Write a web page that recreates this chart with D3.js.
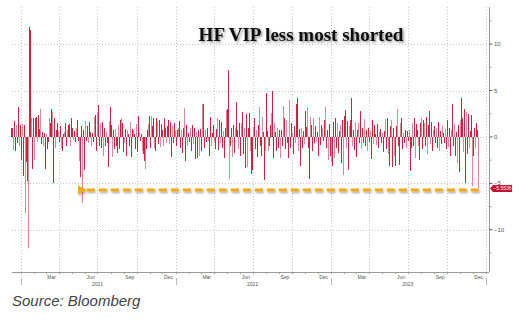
<!DOCTYPE html>
<html>
<head>
<meta charset="utf-8">
<script src="https://cdn.jsdelivr.net/npm/d3@7"></script>
<style>
  body { margin: 0; background: #fff; }
  svg { display: block; }
</style>
</head>
<body>
<svg id="chart" width="521" height="323"></svg>
<script>
// daily spread left to right (roughly one bar per pixel)
const seg1 = [1.0,-1.4,1.7,-1.5,1.3,-0.6,3.2,-1.0,1.3,-2.5,1.4,-4.2,1.3,-8.2,-2.7,-4.7,-12.0,11.8,11.5,2.0,
  -3.4,2.0,-2.5,2.0,2.2,-0.5,2.4,0.9,3.0,-0.8,0.5,-1.0,0.4,-3.5,0.3,-1.3,-0.5,2.0,1.5,3.0,
  2.7,-5.0,2.0,-1.2,0.8,1.5,0.6,-0.5,1.2,-1.2,-1.5,0.3,0.5,1.5,-1.0,0.8,1.3,1.4,-1.0,2.0,
  1.0,-0.3,0.6,-0.5,1.0,1.8,-0.4,-2.6,-4.3,1.2,-7.1,0.7,-3.6,1.7,-0.4,1.2,-0.6,1.6];
const seg2 = [0.5,-1.0,0.4,-0.5,2.2,2.4,-1.5,2.6,3.4,-1.0,1.5,-1.2,1.6,-2.0,1.0,-1.0,0.5,-0.7,-3.2,1.7,
  3.2,1.3,-2.2,0.8,-1.3,0.9,-1.0,-1.7,1.3,-1.3,1.8,2.0,1.5,-1.6,-0.6,0.9,-2.1,0.8,0.3,-1.0,
  1.6,-2.2,0.9,0.7,0.3,-1.3,1.4,-1.6,2.3,0.5,-0.4,0.3,-1.5,-1.8,-2.6,-3.5,-1.3,0.8,1.4,2.3,
  -1.2,2.3,1.2,2.0,-1.2,-1.5,2.0,1.7,-0.8,1.8,-1.1,1.4,0.7,-1.0,2.0,1.0,-0.6,1.2];
const seg3 = [1.8,-0.8,1.6,-2.2,1.2,-0.7,1.5,0.6,-1.0,0.8,1.0,1.7,-1.2,0.7,-1.7,1.0,3.1,-2.6,1.3,-1.0,
  0.4,-0.5,1.0,-1.5,1.3,-0.8,1.0,-2.4,0.5,-2.3,0.8,-2.0,0.9,-1.5,3.5,3.6,-1.2,0.8,-0.5,1.0,
  -0.4,-2.0,2.2,-1.0,0.4,1.3,-0.5,-1.3,0.9,2.0,-1.4,1.8,-0.6,1.6,-1.2,0.6,-2.3,1.0,2.9,3.0,
  7.2,-4.5,-1.0,1.0,-2.2,1.3,-1.7,1.0,3.8,0.7,-1.3,1.5,-2.0,1.5,2.7,-1.8,1.0,-3.3,2.5,-3.2,1.0];
const seg4 = [2.6,-1.5,-4.0,-3.6,1.1,2.0,-1.3,0.8,-2.2,1.3,3.2,-1.0,-2.0,2.1,0.5,-4.6,-1.5,4.7,0.6,-1.5,
  -1.0,1.3,2.6,4.9,-2.3,1.5,0.5,-1.5,1.0,-1.2,0.8,-2.3,0.7,-1.0,3.3,2.0,-1.3,1.8,-0.7,-2.3,
  4.0,-1.2,1.5,0.4,-1.8,1.2,-0.6,3.5,4.2,-1.5,0.9,-3.1,1.0,-1.2,0.6,-0.8,2.8,1.1,3.2,-1.2,
  -4.5,2.2,1.3,-1.5,2.0,-0.6,1.2,-0.5,0.5,-2.0,2.1,-0.9,1.3,1.0,-0.4,1.8,3.2,-1.2,0.7,-2.5];
const seg5 = [1.4,-2.0,-2.7,-3.1,1.6,-2.3,2.0,-1.2,1.5,-1.7,0.6,1.3,-2.8,1.8,-4.1,2.3,2.9,-1.2,1.7,-3.6,
  1.2,1.8,4.2,-1.0,0.8,-1.4,1.6,-2.2,0.8,1.5,-0.6,2.8,-1.3,1.0,-0.7,1.9,-1.0,0.8,-1.5,1.0,
  -0.5,0.6,-2.4,1.8,-0.8,1.3,0.3,-0.9,1.4,-1.2,0.5,0.9,-0.7,0.4,-1.6,0.6,1.9,-1.3,2.0,-1.8,
  -3.1,1.2,1.8,-3.2,1.0,-2.0,-3.1,1.2,3.0,-1.0,-3.0,1.5,2.0,-1.3,0.4,-0.6,0.8,-1.2,0.6,-0.4];
const seg6 = [0.8,-3.7,-1.2,1.5,-1.0,2.0,-2.3,1.4,0.7,-1.0,-2.5,1.5,2.0,-1.3,1.8,1.5,-1.0,2.2,-1.8,1.3,
  2.8,-0.8,1.6,-1.5,0.8,1.2,-0.6,1.0,-1.2,1.6,-1.5,0.6,-0.8,1.2,0.4,-0.6,0.9,-1.3,1.8,-1.1,
  1.0,-2.0,0.7,3.6,-1.0,1.4,-2.0,0.5,-2.8,1.3,-3.8,1.8,4.2,2.0,-1.6,3.0,-5.0,2.7,-1.8,2.5,
  -1.2,0.6,2.4,-5.3,-2.0,1.0,-1.2,1.5,0.7,-5.5536];
const values = [].concat(seg1, seg2, seg3, seg4, seg5, seg6);

const firstDate = new Date(2020, 11, 12);
const lastDate = new Date(2023, 11, 15);
const domainStart = new Date(2020, 11, 12);
const domainEnd = new Date(2024, 0, 8);

const yTicks = [10, 5, 0, -5, -10];
const yMinor = [12.5, 7.5, 2.5, -2.5, -7.5, -12.5];
const monthLabels = ["Mar", "Jun", "Sep", "Dec"];
const years = [2021, 2022, 2023];
const title = "HF VIP less most shorted";
const source = "Source: Bloomberg";
const arrowFromValue = -7.1;

const step = (lastDate - firstDate) / (values.length - 1);
const data = values.map((v, i) => ({date: new Date(+firstDate + i * step), value: v}));

const margin = {top: 7, right: 32, bottom: 51, left: 12};
const width = 521, height = 323;

const x = d3.scaleTime()
  .domain([domainStart, domainEnd])
  .range([margin.left, width - margin.right]);

const y = d3.scaleLinear()
  .domain([-14.55, 14])
  .range([height - margin.bottom, margin.top]);

const svg = d3.select("#chart");
const defs = svg.append("defs");

defs.append("filter")
    .attr("id", "shadow")
    .attr("x", "-10%").attr("y", "-30%").attr("width", "120%").attr("height", "160%")
  .append("feDropShadow")
    .attr("dx", 1.5).attr("dy", 1.5).attr("stdDeviation", 1.2)
    .attr("flood-color", "#000").attr("flood-opacity", 0.45);

defs.append("filter")
    .attr("id", "lineShadow")
    .attr("filterUnits", "userSpaceOnUse")
    .attr("x", 0).attr("y", 0).attr("width", width).attr("height", height)
  .append("feDropShadow")
    .attr("dx", 1).attr("dy", 1.5).attr("stdDeviation", 0.8)
    .attr("flood-color", "#000").attr("flood-opacity", 0.35);

defs.append("marker")
    .attr("id", "arrowhead")
    .attr("viewBox", "0 0 10 10")
    .attr("refX", 1).attr("refY", 5)
    .attr("markerWidth", 3).attr("markerHeight", 3)
    .attr("orient", "auto-start-reverse")
  .append("path")
    .attr("d", "M10,0 L0,5 L10,10 Z")
    .attr("fill", "#f0a81a");

// gridlines
const grid = svg.append("g")
    .attr("stroke", "#c8c8c8")
    .attr("stroke-width", 1)
    .attr("stroke-dasharray", "1,2");

grid.selectAll("line.h")
  .data(yTicks)
  .join("line")
    .attr("class", "h")
    .attr("x1", margin.left).attr("x2", width - margin.right)
    .attr("y1", d => Math.round(y(d)) + 0.5).attr("y2", d => Math.round(y(d)) + 0.5);

grid.selectAll("line.v")
  .data(d3.timeMonth.every(3).range(domainStart, domainEnd))
  .join("line")
    .attr("class", "v")
    .attr("x1", d => Math.round(x(d)) + 0.5).attr("x2", d => Math.round(x(d)) + 0.5)
    .attr("y1", margin.top).attr("y2", height - margin.bottom);

// bars
const bw = x(new Date(+firstDate + step)) - x(firstDate);
svg.append("g")
    .attr("shape-rendering", "crispEdges")
  .selectAll("rect")
  .data(data)
  .join("rect")
    .attr("x", d => x(d.date) - bw / 2)
    .attr("width", bw)
    .attr("y", d => y(Math.max(0, d.value)))
    .attr("height", d => Math.abs(y(d.value) - y(0)))
    .attr("fill", (d, i) => i % 3 === 1 ? "#de8797" : "#d0223f");

// arrow from the latest reading back to the earlier comparable low
const last = data[data.length - 1];
const target = data[values.indexOf(arrowFromValue)];
const arrowY = y(last.value) + 1.5;
svg.append("path")
    .attr("d", `M${x(last.date)},${arrowY}H${x(target.date) + 4}`)
    .attr("fill", "none")
    .attr("stroke", "#f0a81a")
    .attr("stroke-width", 3)
    .attr("stroke-dasharray", "8,4")
    .attr("marker-end", "url(#arrowhead)")
    .attr("filter", "url(#lineShadow)");

// right axis
const axisX = width - margin.right;
const axisG = svg.append("g").attr("transform", `translate(${axisX},0)`);
axisG.append("line")
    .attr("x1", 0.5).attr("x2", 0.5)
    .attr("y1", margin.top).attr("y2", height - margin.bottom)
    .attr("stroke", "#9a9a9a");
axisG.selectAll("line.minor")
  .data(yMinor)
  .join("line")
    .attr("class", "minor")
    .attr("x1", 0.5).attr("x2", 2.5)
    .attr("y1", d => y(d)).attr("y2", d => y(d))
    .attr("stroke", "#9a9a9a");
axisG.selectAll("line.major")
  .data(yTicks)
  .join("line")
    .attr("class", "major")
    .attr("x1", 0.5).attr("x2", 3.5)
    .attr("y1", d => y(d)).attr("y2", d => y(d))
    .attr("stroke", "#555");
axisG.selectAll("text")
  .data(yTicks)
  .join("text")
    .attr("x", 5)
    .attr("y", d => y(d))
    .attr("dy", "0.35em")
    .attr("font-family", "Liberation Sans, Arial, sans-serif")
    .attr("font-size", 6)
    .attr("fill", "#555")
    .text(d => d < 0 ? "\u2212" + Math.abs(d) : d);

// last value tag
const tagY = y(last.value);
axisG.append("path")
    .attr("d", `M1,${tagY} L4,${tagY - 3.5} H23 V${tagY + 3.5} H4 Z`)
    .attr("fill", "#c8102e");
axisG.append("text")
    .attr("x", 13.5).attr("y", tagY).attr("dy", "0.35em")
    .attr("text-anchor", "middle")
    .attr("font-family", "Liberation Sans, Arial, sans-serif")
    .attr("font-size", 5)
    .attr("fill", "#fff")
    .text(d3.format(".4f")(last.value).replace("-", "\u2212"));

// bottom axis
const baseY = height - margin.bottom;
const bottom = svg.append("g");
bottom.append("line")
    .attr("x1", margin.left).attr("x2", axisX)
    .attr("y1", baseY + 0.5).attr("y2", baseY + 0.5)
    .attr("stroke", "#9a9a9a");
bottom.selectAll("line.mt")
  .data(d3.timeMonth.range(domainStart, domainEnd))
  .join("line")
    .attr("class", "mt")
    .attr("x1", d => Math.round(x(d)) + 0.5).attr("x2", d => Math.round(x(d)) + 0.5)
    .attr("y1", baseY).attr("y2", baseY + 2)
    .attr("stroke", "#9a9a9a");
bottom.selectAll("line.yt")
  .data(d3.timeYear.range(domainStart, domainEnd))
  .join("line")
    .attr("class", "yt")
    .attr("x1", d => Math.round(x(d)) + 0.5).attr("x2", d => Math.round(x(d)) + 0.5)
    .attr("y1", baseY + 6).attr("y2", baseY + 13)
    .attr("stroke", "#bbb");
const monthTicks = d3.timeMonth.range(domainStart, domainEnd)
  .filter(d => monthLabels.includes(d3.timeFormat("%b")(d)));
bottom.selectAll("text.m")
  .data(monthTicks)
  .join("text")
    .attr("class", "m")
    .attr("x", d => x(d3.timeDay.offset(d, 14)))
    .attr("y", baseY + 7)
    .attr("text-anchor", "middle")
    .attr("font-family", "Liberation Sans, Arial, sans-serif")
    .attr("font-size", 5)
    .attr("fill", "#555")
    .text(d => d3.timeFormat("%b")(d));
bottom.selectAll("text.y")
  .data(years)
  .join("text")
    .attr("class", "y")
    .attr("x", d => x(new Date(d, 6, 1)))
    .attr("y", baseY + 14)
    .attr("text-anchor", "middle")
    .attr("font-family", "Liberation Sans, Arial, sans-serif")
    .attr("font-size", 5)
    .attr("fill", "#555")
    .text(d => d);

// title
svg.append("text")
    .attr("x", 301).attr("y", 41)
    .attr("text-anchor", "middle")
    .attr("font-family", "Liberation Serif, Times New Roman, serif")
    .attr("font-weight", "bold")
    .attr("font-size", 19)
    .attr("fill", "#111")
    .attr("filter", "url(#shadow)")
    .text(title);

// source
svg.append("text")
    .attr("x", 12).attr("y", 306)
    .attr("font-family", "Liberation Sans, Arial, sans-serif")
    .attr("font-style", "italic")
    .attr("font-size", 15)
    .attr("fill", "#444")
    .text(source);
</script>
</body>
</html>
